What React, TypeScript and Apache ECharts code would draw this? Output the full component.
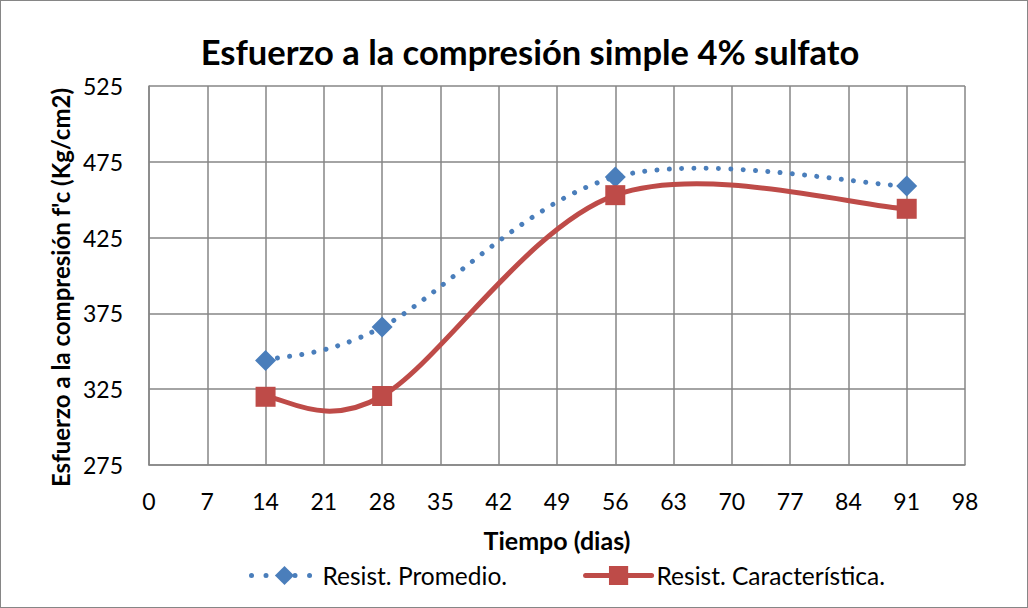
import React, { useEffect, useRef } from "react";
import * as echarts from "echarts";

const days = [14, 28, 56, 91];
const promedio = [344, 366, 465, 459];
const caracteristica = [320, 320.5, 453, 444];
const xTicks = [0, 7, 14, 21, 28, 35, 42, 49, 56, 63, 70, 77, 84, 91, 98];
const yTicks = [275, 325, 375, 425, 475, 525];
const seriesNames = ["Resist. Promedio.", "Resist. Característica."];

const FONT = "Lato, 'Open Sans', sans-serif";
const BLUE = "#4A7EBB";
const RED = "#BE4B48";
const GRID = "#868686";

// Excel-like smoothed curve (Catmull-Rom -> cubic Bezier, tension 1/6)
function makeRenderItem(style: any) {
  return (params: any, api: any) => {
    if (params.dataIndexInside !== 0) return null;
    const n = days.length;
    const pts: number[][] = [];
    for (let j = 0; j < n; j++) {
      pts.push(api.coord([api.value(0, j), api.value(1, j)]));
    }
    let d = `M${pts[0][0]},${pts[0][1]}`;
    for (let i = 0; i < n - 1; i++) {
      const p0 = pts[i - 1] || pts[i];
      const p1 = pts[i];
      const p2 = pts[i + 1];
      const p3 = pts[i + 2] || pts[i + 1];
      const c1x = p1[0] + (p2[0] - p0[0]) / 6;
      const c1y = p1[1] + (p2[1] - p0[1]) / 6;
      const c2x = p2[0] - (p3[0] - p1[0]) / 6;
      const c2y = p2[1] - (p3[1] - p1[1]) / 6;
      d += ` C${c1x},${c1y} ${c2x},${c2y} ${p2[0]},${p2[1]}`;
    }
    return {
      type: "path",
      shape: { pathData: d },
      style: { fill: "none", ...style },
      silent: true,
    };
  };
}

export default function App() {
  const ref = useRef<HTMLDivElement>(null);
  useEffect(() => {
    document.body.style.margin = "0";
    const chart = echarts.init(ref.current!, null, { renderer: "svg" });
    chart.setOption({
      animation: false,
      backgroundColor: "#ffffff",
      title: {
        text: "Esfuerzo a la compresión simple 4% sulfato",
        left: 524,
        textAlign: "center",
        top: 28,
        textStyle: { fontFamily: FONT, fontSize: 34.5, fontWeight: "bold", color: "#000" },
      },
      legend: {
        top: 557,
        left: 243,
        itemWidth: 66,
        itemHeight: 24,
        itemGap: 76,
        textStyle: { fontFamily: FONT, fontSize: 24.5, color: "#000" },
        data: [
          {
            name: seriesNames[0],
            lineStyle: { opacity: 1, color: BLUE, width: 5, type: [0.01, 14.5], cap: "round" },
          },
          {
            name: seriesNames[1],
            lineStyle: { opacity: 1, color: RED, width: 5, cap: "round" },
          },
        ],
      },
      grid: { left: 148, right: 62, top: 85, bottom: 142 },
      xAxis: {
        type: "value",
        min: 0,
        max: 98,
        interval: 7,
        name: "Tiempo (dias)",
        nameLocation: "middle",
        nameGap: 62,
        nameTextStyle: { fontFamily: FONT, fontSize: 25, fontWeight: "bold", color: "#000" },
        axisLine: { show: true, lineStyle: { color: GRID, width: 1.5 } },
        axisTick: { show: false },
        axisLabel: {
          fontFamily: FONT,
          fontSize: 23,
          color: "#000",
          margin: 24,
          formatter: (v: number) => (xTicks.includes(v) ? String(v) : ""),
        },
        splitLine: { show: true, lineStyle: { color: GRID, width: 1.5 } },
      },
      yAxis: {
        type: "value",
        min: 275,
        max: 525,
        interval: 50,
        name: "Esfuerzo a la compresión f'c (Kg/cm2)",
        nameLocation: "middle",
        nameGap: 75,
        nameRotate: 90,
        nameTextStyle: {
          fontFamily: FONT,
          fontSize: 24,
          fontWeight: "bold",
          color: "#000",
          padding: [0, 24, 0, 0],
        },
        axisLine: { show: true, lineStyle: { color: GRID, width: 1.5 } },
        axisTick: { show: false },
        axisLabel: {
          fontFamily: FONT,
          fontSize: 23,
          color: "#000",
          margin: 26,
          formatter: (v: number) => (yTicks.includes(v) ? String(v) : ""),
        },
        splitLine: { show: true, lineStyle: { color: GRID, width: 1.5 } },
      },
      series: [
        {
          name: "curvaPromedio",
          type: "custom",
          data: days.map((d, i) => [d, promedio[i]]),
          renderItem: makeRenderItem({
            stroke: BLUE,
            lineWidth: 5,
            lineDash: [0.01, 12.3],
            lineCap: "round",
          }),
          z: 2,
        },
        {
          name: seriesNames[0],
          type: "line",
          data: days.map((d, i) => [d, promedio[i]]),
          symbol: "diamond",
          symbolSize: 21,
          itemStyle: { color: BLUE },
          lineStyle: { color: BLUE, opacity: 0, width: 5, type: [0.01, 14.5], cap: "round" },
          z: 3,
        },
        {
          name: "curvaCaracteristica",
          type: "custom",
          data: days.map((d, i) => [d, caracteristica[i]]),
          renderItem: makeRenderItem({ stroke: RED, lineWidth: 5, lineCap: "round" }),
          z: 4,
        },
        {
          name: seriesNames[1],
          type: "line",
          data: days.map((d, i) => [d, caracteristica[i]]),
          symbol: "rect",
          symbolSize: 20,
          itemStyle: { color: RED },
          lineStyle: { color: RED, opacity: 0, width: 5 },
          z: 5,
        },
      ],
    });
    return () => chart.dispose();
  }, []);
  return (
    <div
      ref={ref}
      style={{ width: 1028, height: 608, boxSizing: "border-box", border: "1px solid #868686" }}
    />
  );
}
